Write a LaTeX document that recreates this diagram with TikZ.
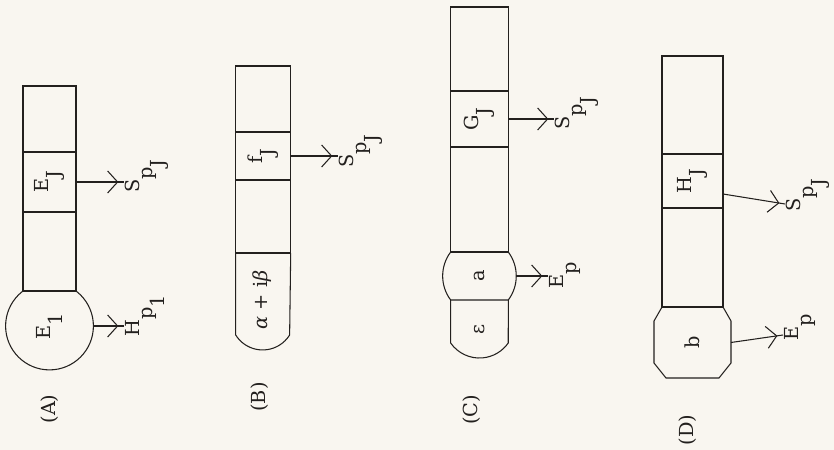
\documentclass[tikz,border=0pt]{standalone}
\usepackage{fontspec}
\setmainfont{DejaVu Serif}
\usepackage{tikz}
\usetikzlibrary{positioning, calc, arrows.meta, decorations.markings}
\definecolor{paper}{RGB}{249,246,240}
\definecolor{ink}{RGB}{35,32,30}
\newcommand{\dn}[1]{\raisebox{-0.65em}{#1}}

\begin{document}
\begin{tikzpicture}[
    x=0.03cm, y=0.03cm,
    every node/.style={font=\fontsize{16.5}{19}\selectfont, text=ink},
    cell/.style={rectangle, draw=ink, fill=paper, line width=0.9pt, inner sep=0pt, outer sep=0pt},
    ring/.style={circle, draw=ink, line width=0.9pt, inner sep=0pt, outer sep=0pt, minimum size=2.634cm},
    slot/.style={inner sep=0pt, outer sep=0pt},
    lbl/.style={rotate=90, inner sep=1pt},
    outline/.style={draw=ink, line width=0.9pt},
    flow/.style={draw=ink, line width=0.9pt, postaction={decorate},
        decoration={markings, mark=at position -0.17cm with {\arrow{Straight Barb[length=0.3cm, width=0.66cm]}}}}
]
\fill[paper] (0,0) rectangle (834,450);
\useasboundingbox (0,0) rectangle (834,450);

% (A)
\node[ring] (e1) at (49.5,124) {\rotatebox{90}{E\dn{1}}};
\node[cell, minimum width=1.59cm, minimum height=1.98cm] (a1) at (49.5,331) {};
\node[cell, minimum width=1.59cm, minimum height=1.8cm, below=0pt of a1] (a2) {\rotatebox{90}{E\dn{J}}};
\node[cell, minimum width=1.59cm, minimum height=2.37cm, below=0pt of a2] (a3) {};
\node[lbl, anchor=north] (sA) at (124,274) {S\dn{p\dn{J}}};
\node[lbl, anchor=north] (hA) at (124,134) {H\dn{p\dn{1}}};
\draw[flow] (a2.east) -- (a2.east -| sA.north);
\draw[flow] (e1.east) -- (e1.east -| hA.north);
\node[lbl] (labA) at (50,41) {(A)};

% (B)
\node[cell, minimum width=1.65cm, minimum height=1.98cm] (b1) at (263.2,351) {};
\node[cell, minimum width=1.65cm, minimum height=1.44cm, below=0pt of b1] (b2) {\rotatebox{90}{f\dn{J}}};
\node[cell, minimum width=1.65cm, minimum height=2.19cm, below=0pt of b2] (b3) {};
\node[slot] (b4) at (262,150) {\rotatebox{90}{\textit{α} + i\textit{β}}};
\draw[outline] (b3.south west) -- ++(0,-82) arc[start angle=212, end angle=328, radius=31.8] -- (b3.south east);
\node[lbl, anchor=north] (sB) at (338,299) {S\dn{p\dn{J}}};
\draw[flow] (b2.east) -- (b2.east -| sB.north);
\node[lbl] (labB) at (260,53) {(B)};

% (C)
\node[cell, minimum width=1.73cm, minimum height=2.52cm] (c1) at (479.5,401) {};
\node[cell, minimum width=1.73cm, minimum height=1.68cm, below=0pt of c1] (c2) {\rotatebox{90}{G\dn{J}}};
\node[cell, minimum width=1.73cm, minimum height=3.15cm, below=0pt of c2] (c3) {};
\node[slot, minimum width=2.21cm, minimum height=1.44cm] (c4) at (479.5,174) {\rotatebox{90}{a}};
\draw[outline] (c3.south west) arc[start angle=143.13, end angle=216.87, radius=40]
    -- ++(57.6,0) arc[start angle=-36.87, end angle=36.87, radius=40];
\node[slot] (c5) at (479.5,121) {\rotatebox{90}{ε}};
\draw[outline] ([yshift=-1.44cm]c3.south west) -- ++(0,-43) arc[start angle=214.9, end angle=325.1, radius=35.1]
    -- ([yshift=-1.44cm]c3.south east);
\node[lbl, anchor=north] (sC) at (554,337) {S\dn{p\dn{J}}};
\node[lbl, anchor=north] (eC) at (548,175) {E\dn{p}};
\draw[flow] (c2.east) -- (c2.east -| sC.north);
\draw[flow] (c4.east) -- (c4.east -| eC.north);
\node[lbl] (labC) at (472,40) {(C)};

% (D)
\node[cell, minimum width=1.83cm, minimum height=2.94cm] (d1) at (692.5,345) {};
\node[cell, minimum width=1.83cm, minimum height=1.62cm, below=0pt of d1] (d2) {\rotatebox{90}{H\dn{J}}};
\node[cell, minimum width=1.83cm, minimum height=2.97cm, below=0pt of d2] (d3) {};
\node[slot, minimum width=2.31cm] (d4) at (692.5,107.5) {\rotatebox{90}{b}};
\draw[outline] (d3.south west) -- ++(-8,-14) -- ++(0,-42) -- ++(12,-15) -- ++(53,0)
    -- ++(12,15) -- ++(0,42) -- (d3.south east);
\node[lbl, anchor=north] (sD) at (785,255) {S\dn{p\dn{J}}};
\node[lbl, anchor=north] (eD) at (783,123) {E\dn{p}};
\draw[flow] ($(d2.east)+(0,-13)$) -- ([yshift=-0.27cm]sD.north);
\draw[flow] (d4.east) -- ([yshift=-0.24cm]eD.north);
\node[lbl] (labD) at (688,20) {(D)};

\end{tikzpicture}
\end{document}
